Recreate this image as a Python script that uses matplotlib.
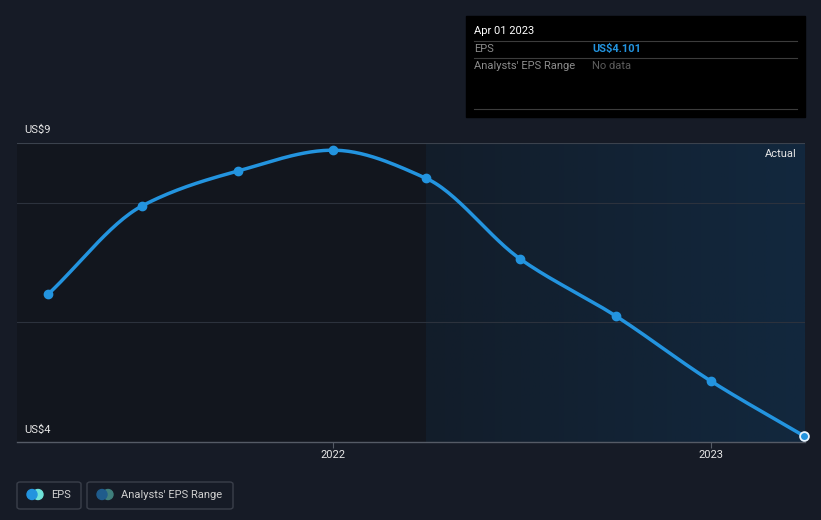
import numpy as np
import matplotlib
matplotlib.use("Agg")
from matplotlib import pyplot as plt
import matplotlib.dates as mdates
from matplotlib.patches import Rectangle, FancyBboxPatch
from datetime import date

plt.rcParams['font.family'] = ['Roboto', 'DejaVu Sans']

# data
dates = [date(2021, 4, 1), date(2021, 7, 1), date(2021, 10, 1), date(2022, 1, 1),
         date(2022, 4, 1), date(2022, 7, 1), date(2022, 10, 1), date(2023, 1, 1),
         date(2023, 4, 1)]
eps = [6.47, 7.95, 8.53, 8.88, 8.41, 7.06, 6.11, 5.02, 4.101]
year_ticks = [date(2022, 1, 1), date(2023, 1, 1)]
year_labels = ["2022", "2023"]
actual_start = date(2022, 4, 1)

BG = "#161b26"
BLUE = "#2394df"
W, H = 821, 520
FS = 8


def monotone(x, y, n=30):
    # monotone cubic (Fritsch-Carlson) path through the points, for drawing only
    x = np.asarray(x, float)
    y = np.asarray(y, float)
    h = np.diff(x)
    d = np.diff(y) / h
    m = np.zeros_like(y)
    m[0], m[-1] = d[0], d[-1]
    for i in range(1, len(y) - 1):
        if d[i - 1] * d[i] <= 0:
            m[i] = 0
        else:
            m[i] = 3 * (h[i - 1] + h[i]) / ((2 * h[i] + h[i - 1]) / d[i - 1] + (h[i] + 2 * h[i - 1]) / d[i])
    xs, ys = [], []
    for i in range(len(h)):
        t = np.linspace(0, 1, n, endpoint=False)
        h00 = 2 * t**3 - 3 * t**2 + 1
        h10 = t**3 - 2 * t**2 + t
        h01 = -2 * t**3 + 3 * t**2
        h11 = t**3 - t**2
        xs.append(x[i] + t * h[i])
        ys.append(h00 * y[i] + h10 * h[i] * m[i] + h01 * y[i + 1] + h11 * h[i] * m[i + 1])
    xs.append([x[-1]])
    ys.append([y[-1]])
    return np.concatenate(xs), np.concatenate(ys)


fig = plt.figure(figsize=(W / 100, H / 100), dpi=100, facecolor=BG)
ax = fig.add_axes([17 / W, (H - 442) / H, 788 / W, 299 / H])
ax.set_facecolor(BG)

xd = mdates.date2num(dates)
x0 = mdates.date2num(date(2021, 3, 2))
x1 = mdates.date2num(date(2023, 4, 2))
xa = mdates.date2num(actual_start)
ax.set_xlim(x0, x1)
ax.set_ylim(4, 9)

# past region (darker) and actual region (blue gradient)
ax.add_patch(Rectangle((x0, 4), xa - x0, 5, color="#12161e", zorder=0))
grad = np.linspace(0, 1, 256).reshape(1, -1)
cmap = matplotlib.colors.LinearSegmentedColormap.from_list("g", ["#121d2a", "#12283e"])
ax.imshow(grad, extent=[xa, x1, 4, 9], aspect="auto", cmap=cmap, zorder=0.5)

for v in [6, 8]:
    ax.axhline(v, color="#2c323d", lw=0.8, zorder=1)
ax.axhline(9, color="#3b424d", lw=0.8, zorder=1)

xs, ys = monotone(xd, eps)
ax.plot(xs, ys, color=BLUE, lw=2.5, zorder=3, solid_capstyle="round")
ax.scatter(xd[:-1], eps[:-1], s=36, color=BLUE, zorder=4)
ax.scatter(xd[-1:], eps[-1:], s=40, color=BLUE, edgecolor="#e8f4ff", lw=1.3, zorder=5, clip_on=False)

for s in ["top", "left", "right"]:
    ax.spines[s].set_visible(False)
ax.spines["bottom"].set_color("#555b66")
ax.spines["bottom"].set_linewidth(1)
ax.set_yticks([])
ax.set_xticks(mdates.date2num(year_ticks))
ax.set_xticklabels(year_labels, color="#e6e6e6", fontsize=FS)
ax.tick_params(axis="x", length=4, color="#555b66", pad=2)

ax.text(0.99, 8.81, "Actual", color="#e6e6e6", fontsize=FS, ha="right", va="center",
        transform=matplotlib.transforms.blended_transform_factory(ax.transAxes, ax.transData))

# y labels
fig.text(24 / W, 1 - 130 / H, "US$9", color="#e6e6e6", fontsize=FS, va="center")
fig.text(24 / W, 1 - 430 / H, "US$4", color="#e6e6e6", fontsize=FS, va="center")

# tooltip box
fig.patches.append(Rectangle((466 / W, 1 - 117 / H), 339 / W, 101 / H, transform=fig.transFigure,
                             color="#000000", zorder=5))
for yy in [41, 58, 109]:
    fig.add_artist(plt.Line2D([474 / W, 797 / W], [1 - yy / H] * 2, color="#3c3c3c", lw=0.8, zorder=6))
fig.text(474 / W, 1 - 31 / H, "Apr 01 2023", color="#ffffff", fontsize=FS, va="center", zorder=7)
fig.text(474 / W, 1 - 49 / H, "EPS", color="#8c8c8c", fontsize=FS, va="center", zorder=7)
fig.text(592 / W, 1 - 49 / H, "US$4.101", color=BLUE, fontsize=FS, fontweight="bold", va="center", zorder=7)
fig.text(474 / W, 1 - 66 / H, "Analysts' EPS Range", color="#8c8c8c", fontsize=FS, va="center", zorder=7)
fig.text(592 / W, 1 - 66 / H, "No data", color="#5c5c5c", fontsize=FS, va="center", zorder=7)


# legend
def legend_box(xl, xr, label, c1, c2):
    fig.patches.append(FancyBboxPatch((xl / W, 1 - 509 / H), (xr - xl) / W, 27 / H,
                                      boxstyle="round,pad=0,rounding_size=0.004", transform=fig.transFigure,
                                      facecolor="none", edgecolor="#3a3f4a", lw=1))
    fig.add_artist(matplotlib.patches.Ellipse(((xl + 21) / W, 1 - 494.5 / H), 10 / W, 10 / H,
                                              transform=fig.transFigure, color=c2))
    fig.add_artist(matplotlib.patches.Ellipse(((xl + 15) / W, 1 - 494.5 / H), 10 / W, 10 / H,
                                              transform=fig.transFigure, color=c1))
    fig.text((xl + 34) / W, 1 - 495 / H, label, color="#d0d0d0", fontsize=FS, va="center")


legend_box(17, 81, "EPS", BLUE, "#6fe3d9")
legend_box(87, 233, "Analysts' EPS Range", "#1f5c8c", "#3f7f7c")

fig.savefig("out.png", dpi=100, facecolor=BG)
